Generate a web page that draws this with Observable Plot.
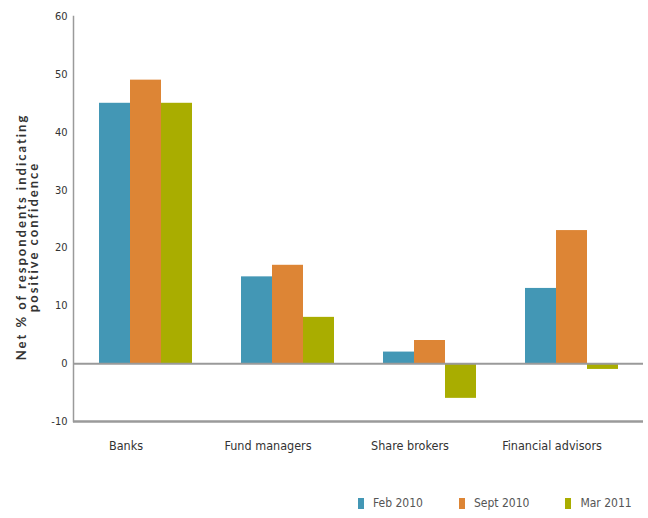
<!DOCTYPE html>
<html><head><meta charset="utf-8">
<script src="https://cdn.jsdelivr.net/npm/d3@7"></script>
<script src="https://cdn.jsdelivr.net/npm/@observablehq/plot@0.6"></script>
<style>
body{margin:0;background:#fff;font-family:"DejaVu Sans Condensed","Liberation Sans Narrow","DejaVu Sans",sans-serif;font-stretch:condensed;}
#wrap{position:relative;width:648px;height:518px;}
#bars,#axes{position:absolute;left:0;top:0;}
#legend{position:absolute;top:495px;left:358px;width:290px;display:flex;align-items:center;font-size:12px;color:#555;line-height:16px;white-space:nowrap;}
#legend .item{display:flex;align-items:center;margin-right:36px;flex:none;}
#legend .sw{width:6px;height:11px;margin-right:9px;}
svg text{font-stretch:condensed;}
</style></head><body>
<div id="wrap"><div id="bars"></div><div id="axes"></div><div id="legend"></div></div>
<script>
const categories = ["Banks", "Fund managers", "Share brokers", "Financial advisors"];
const series = ["Feb 2010", "Sept 2010", "Mar 2011"];
const feb2010 = [45, 15, 2, 13];
const sept2010 = [49, 17, 4, 23];
const mar2011 = [45, 8, -6, -1];
const colors = ["#4397b5", "#dd8535", "#a9ad00"];
const yTicks = [-10, 0, 10, 20, 30, 40, 50, 60];
const yLabel = "Net % of respondents indicating\npositive confidence";

const seriesValues = [feb2010, sept2010, mar2011];
const data = categories.flatMap((c, i) => seriesValues.map((v, j) => ({category: c, series: series[j], value: v[i]})));

const font = '"DejaVu Sans Condensed","Liberation Sans Narrow","DejaVu Sans",sans-serif';
const common = {
  width: 648, height: 470,
  marginTop: 16, marginBottom: 49, marginLeft: 73, marginRight: 5,
  style: {fontFamily: font, fontSize: "11px", color: "#333", background: "transparent"}
};

const barsChart = Plot.plot({
  ...common,
  fx: {domain: categories, paddingInner: 1/3, paddingOuter: 1/6, label: null},
  x: {domain: series, axis: null, padding: 0},
  y: {domain: [-10, 60], axis: null},
  color: {domain: series, range: colors},
  marks: [
    Plot.barY(data, {fx: "category", x: "series", y: "value", fill: "series"}),
    Plot.axisFx({anchor: "bottom", tickSize: 0, tickPadding: 20, fontSize: 12.5, dx: -20, label: null, fill: "#333"})
  ]
});

const axesChart = Plot.plot({
  ...common,
  y: {domain: [-10, 60], label: null},
  marks: [
    Plot.ruleY([0], {stroke: "#9a9a9a", strokeWidth: 2}),
    Plot.ruleY([-10], {stroke: "#9a9a9a", strokeWidth: 2.5}),
    Plot.frame({anchor: "left", stroke: "#9a9a9a", strokeWidth: 1.5}),
    Plot.axisY({ticks: yTicks, tickFormat: d => String(d), tickSize: 0, tickPadding: 6, fontSize: 11, label: null, fill: "#333"}),
    Plot.text([yLabel], {frameAnchor: "left", rotate: -90, dx: -45, dy: 18,
      fontSize: 13, fontWeight: "bold", fill: "#333", lineAnchor: "middle", textAnchor: "middle", lineHeight: 0.9,
      fontFamily: "Lato, sans-serif"})
  ]
});
document.getElementById("bars").appendChild(barsChart);
document.getElementById("axes").appendChild(axesChart);
d3.select(axesChart).selectAll("text").filter(function(){ return this.textContent.startsWith("Net %"); })
  .style("letter-spacing", "2px").style("font-stretch", "normal");

const legend = document.getElementById("legend");
series.forEach((s, i) => {
  const item = document.createElement("div"); item.className = "item";
  const sw = document.createElement("div"); sw.className = "sw"; sw.style.background = colors[i];
  const t = document.createElement("span"); t.textContent = s;
  item.appendChild(sw); item.appendChild(t); legend.appendChild(item);
});
</script></body></html>
